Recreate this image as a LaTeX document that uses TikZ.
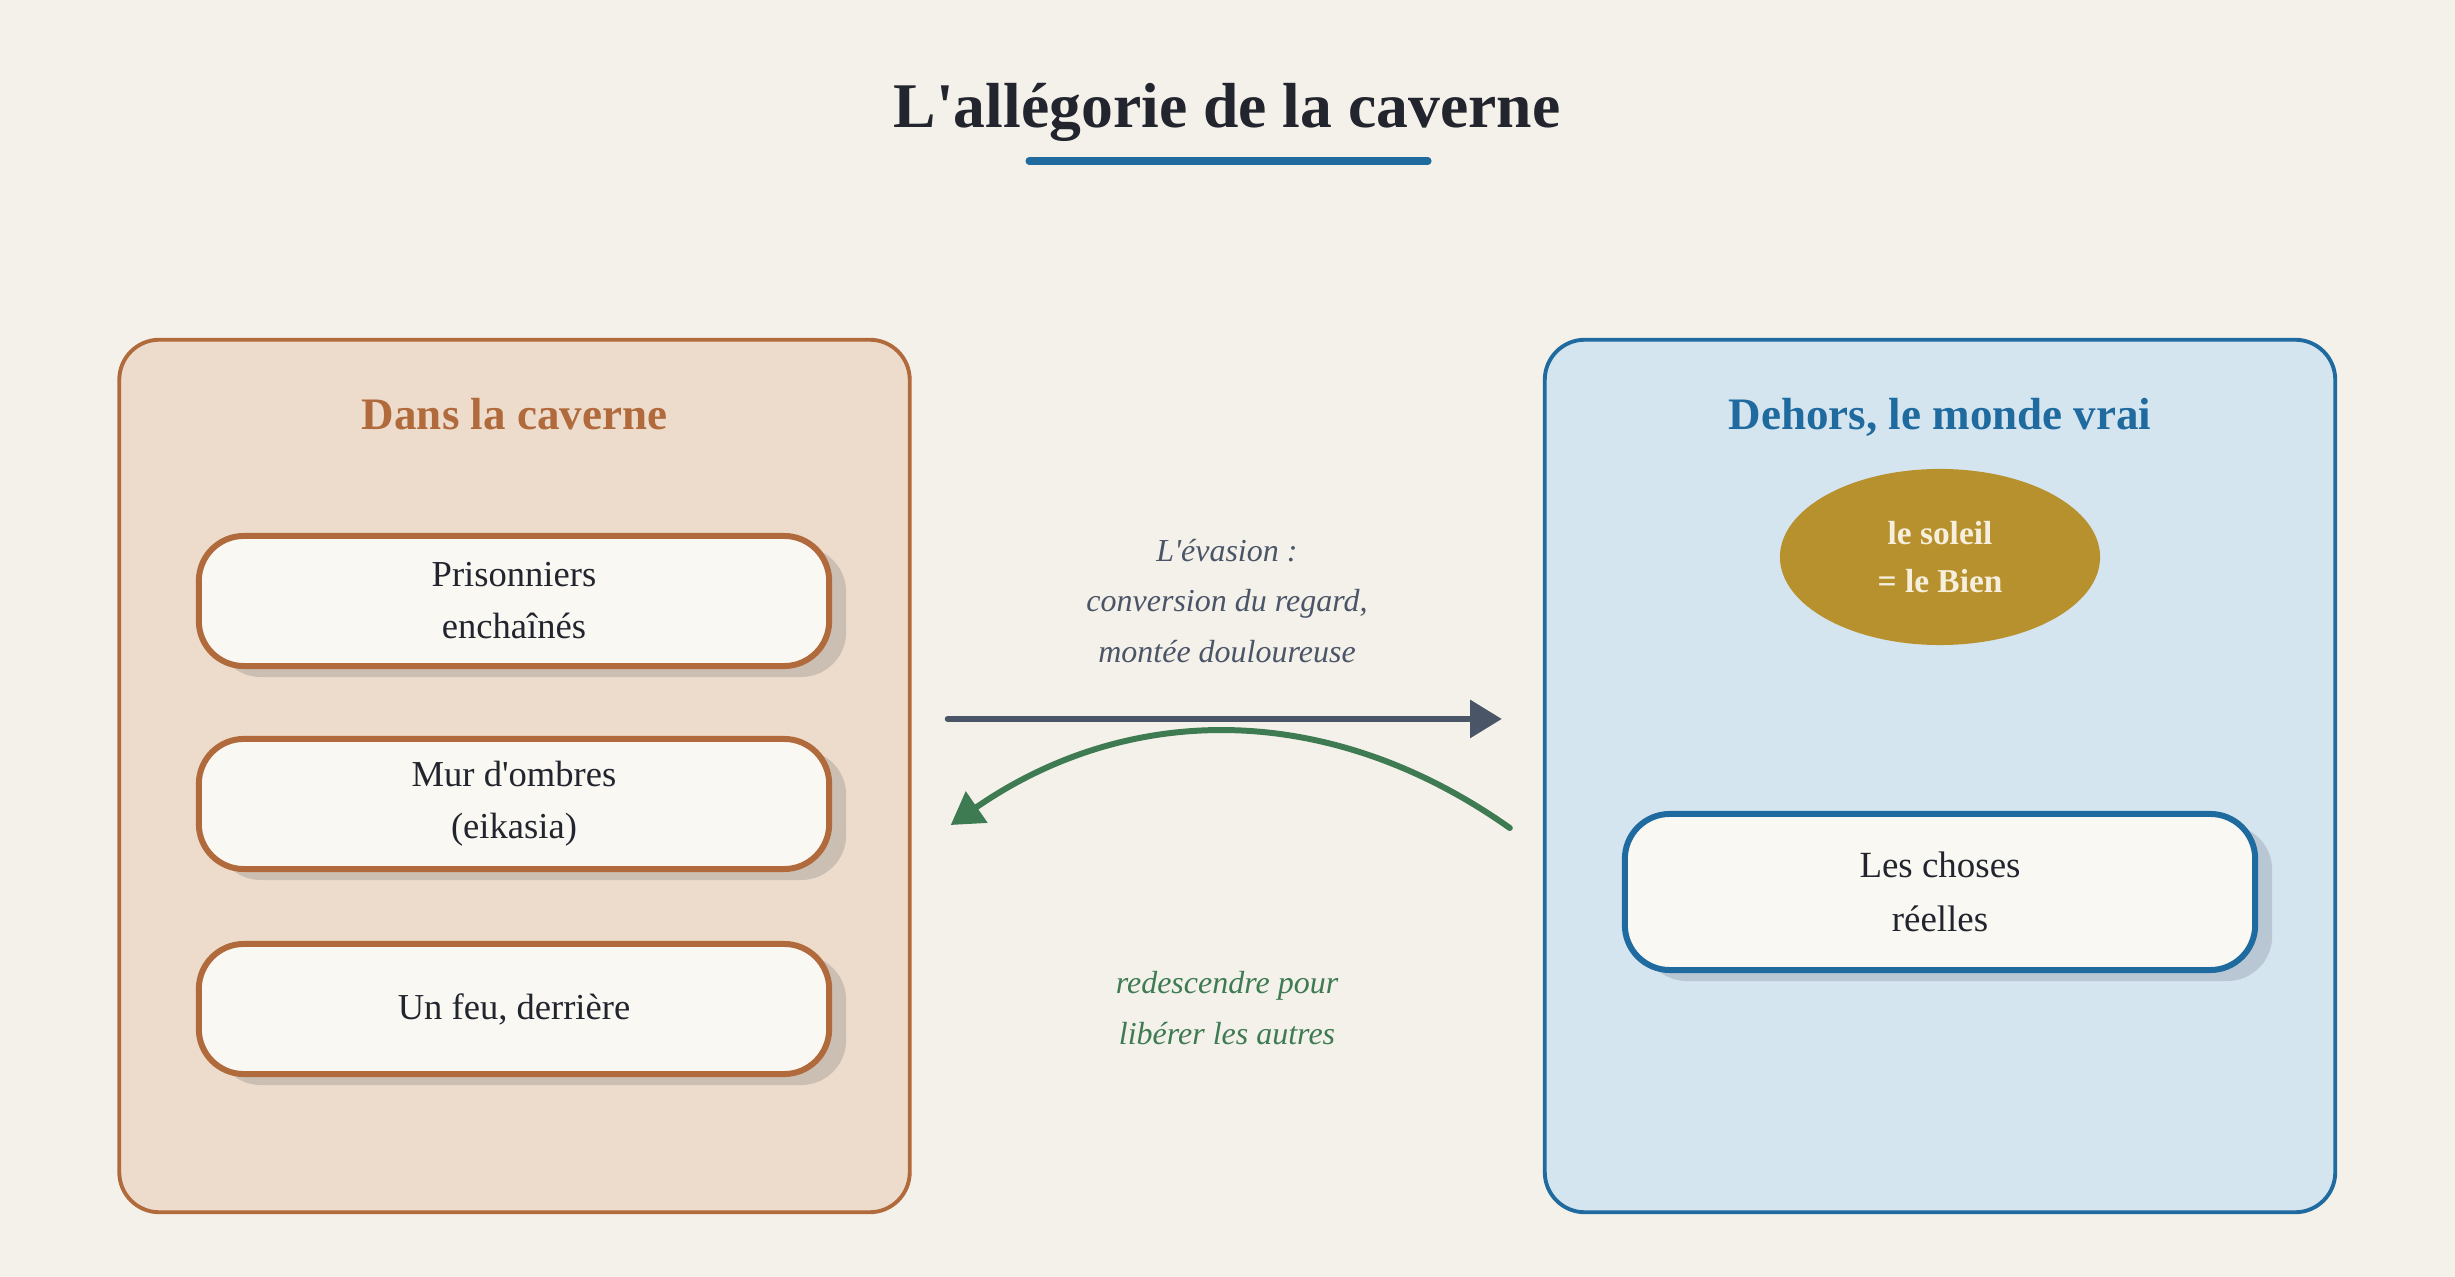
\documentclass[tikz,border=0pt]{standalone}
\usepackage{fontspec}
\setmainfont{Liberation Serif}
\usetikzlibrary{arrows.meta,shapes.geometric,shadows}

\definecolor{paper}{HTML}{F4F1EA}
\definecolor{ink}{HTML}{22252E}
\definecolor{cavebrown}{HTML}{B06A3B}
\definecolor{cavefill}{HTML}{EDDCCB}
\definecolor{caveshadow}{HTML}{CBBFB3}
\definecolor{skyblue}{HTML}{1F6A9E}
\definecolor{skyfill}{HTML}{D5E5F0}
\definecolor{skyshadow}{HTML}{B8C7D3}
\definecolor{cardfill}{HTML}{FAF8F3}
\definecolor{slate}{HTML}{4A5568}
\definecolor{leafgreen}{HTML}{3E7B52}
\definecolor{sungold}{HTML}{B8912F}
\definecolor{suntext}{HTML}{F6EFDD}

\tikzset{
  panel/.style={draw, line width=1.1pt, rounded corners=0.4cm,
    minimum width=7.9cm, minimum height=8.72cm},
  paneltitle/.style={font=\fontsize{12.8}{15}\selectfont\bfseries, anchor=base},
  card/.style={draw=#1, line width=1.7pt, fill=cardfill, rounded corners=0.45cm,
    minimum width=6.3cm, minimum height=1.3cm, align=center, text=ink,
    font=\fontsize{10.4}{14.8}\selectfont},
  cardshadow/.style={drop shadow={shadow xshift=0.17cm, shadow yshift=-0.11cm, fill=#1, opacity=1}},
  midtext/.style={align=center, font=\fontsize{9.1}{14.4}\selectfont\itshape},
  flow/.style={line width=1.7pt, line cap=round,
    -{Triangle[length=9pt, width=10.5pt]}}
}

\begin{document}
\begin{tikzpicture}[x=0.01cm, y=-0.01cm]
        % Page
        \fill [paper] (0, 0) rectangle (2455, 1277);
        \useasboundingbox (0, 0) rectangle (2455, 1277);

        % Title
        \node [font=\fontsize{18.1}{21}\selectfont\bfseries, text=ink, anchor=base] (title) at (1227, 128) {L\textquotesingle allégorie de la caverne};
        \draw [skyblue, line width=2pt, line cap=round] (1029, 161) -- (1428, 161);

        % Inside the cave
        \node [panel, draw=cavebrown, fill=cavefill] (caverne) at (514.5, 776) {};
        \node [paneltitle, text=cavebrown] (cavetitle) at (514.5, 430) {Dans la caverne};
        \node [card=cavebrown, cardshadow=caveshadow] (prisonniers) at (514, 601) {Prisonniers\\enchaînés};
        \node [card=cavebrown, cardshadow=caveshadow] (ombres) at (514, 804) {Mur d\textquotesingle ombres\\(eikasia)};
        \node [card=cavebrown, cardshadow=caveshadow] (feu) at (514, 1009) {Un feu, derrière};

        % Outside
        \node [panel, draw=skyblue, fill=skyfill] (dehors) at (1940, 776) {};
        \node [paneltitle, text=skyblue] (dehorstitle) at (1940, 430) {Dehors, le monde vrai};
        \node [ellipse, fill=sungold, text=suntext, minimum width=3.2cm, minimum height=1.76cm, inner sep=0pt,
               align=center, font=\fontsize{9.5}{13.6}\selectfont\bfseries] (soleil) at (1940, 557) {le soleil\\= le Bien};
        \node [card=skyblue, cardshadow=skyshadow, minimum height=1.56cm, font=\fontsize{10.5}{15.2}\selectfont] (choses) at (1940, 892) {Les choses\\réelles};

        % Way up and way back
        \draw [flow, slate] ([xshift=0.36cm, yshift=0.57cm]caverne.east) -- ([xshift=-0.41cm, yshift=0.57cm]dehors.west);
        \draw [flow, leafgreen] ([xshift=-0.33cm, yshift=-0.52cm]dehors.west) to [bend right=35] ([xshift=0.39cm, yshift=-0.49cm]caverne.east);

        % Annotations
        \node [midtext, text=slate] (evasion) at (1227, 601) {L\textquotesingle évasion :\\conversion du regard,\\montée douloureuse};
        \node [midtext, text=leafgreen] (retour) at (1227, 1008) {redescendre pour\\libérer les autres};
    \end{tikzpicture}
\end{document}
